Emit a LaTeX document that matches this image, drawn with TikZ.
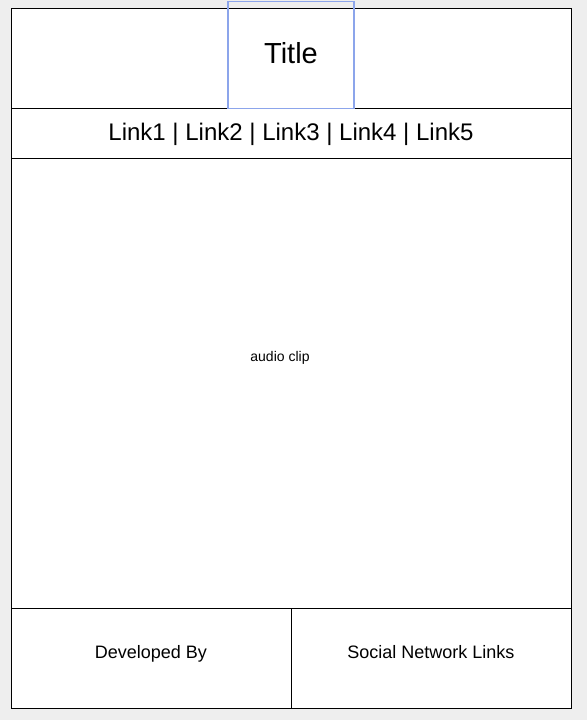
\documentclass[tikz,border=0pt]{standalone}
\usepackage{fontspec}
\setmainfont{Liberation Sans}
\usetikzlibrary{positioning}
\definecolor{pagebg}{RGB}{238,238,238}
\definecolor{selblue}{RGB}{140,165,235}
\tikzset{
  region/.style={draw=black,fill=white,line width=1pt,inner sep=0pt,outer sep=0pt},
  label text/.style={font=\fontsize{18}{21}\selectfont,text height=1.6ex,text depth=.5ex},
}
\begin{document}
\begin{tikzpicture}[x=1pt,y=-1pt]
\fill[pagebg] (0,0) rectangle (587,720);
\useasboundingbox (0,0) rectangle (587,720);
% page blocks
\node[region,anchor=north west,minimum width=560pt,minimum height=100pt] (header) at (11,8) {};
\node[region,below=0pt of header,minimum width=560pt,minimum height=50pt] (nav) {};
\node[region,below=0pt of nav,minimum width=560pt,minimum height=450pt] (content) {};
\node[region,anchor=north west,minimum width=280pt,minimum height=100pt] (devby) at (content.south west) {};
\node[region,right=0pt of devby,minimum width=280pt,minimum height=100pt] (social) {};
% texts
\node[font=\fontsize{24}{28}\selectfont] (links) at ([yshift=-1pt]nav.center) {Link1 | Link2 | Link3 | Link4 | Link5};
\node[label text] (devtext) at ([yshift=2pt]devby.center) {Developed By};
\node[label text] (socialtext) at ([yshift=2pt]social.center) {Social Network Links};
\node[font=\fontsize{14}{16}\selectfont] (clip) at (280,358) {audio clip};
% selected title box
\node[draw=selblue,line width=1.5pt,inner sep=0pt,anchor=north,minimum width=126pt,minimum height=107pt] (title) at (291,0.75) {};
\node[font=\fontsize{29}{34}\selectfont] (titletext) at ([yshift=2pt]title.center) {Title};
\end{tikzpicture}
\end{document}
